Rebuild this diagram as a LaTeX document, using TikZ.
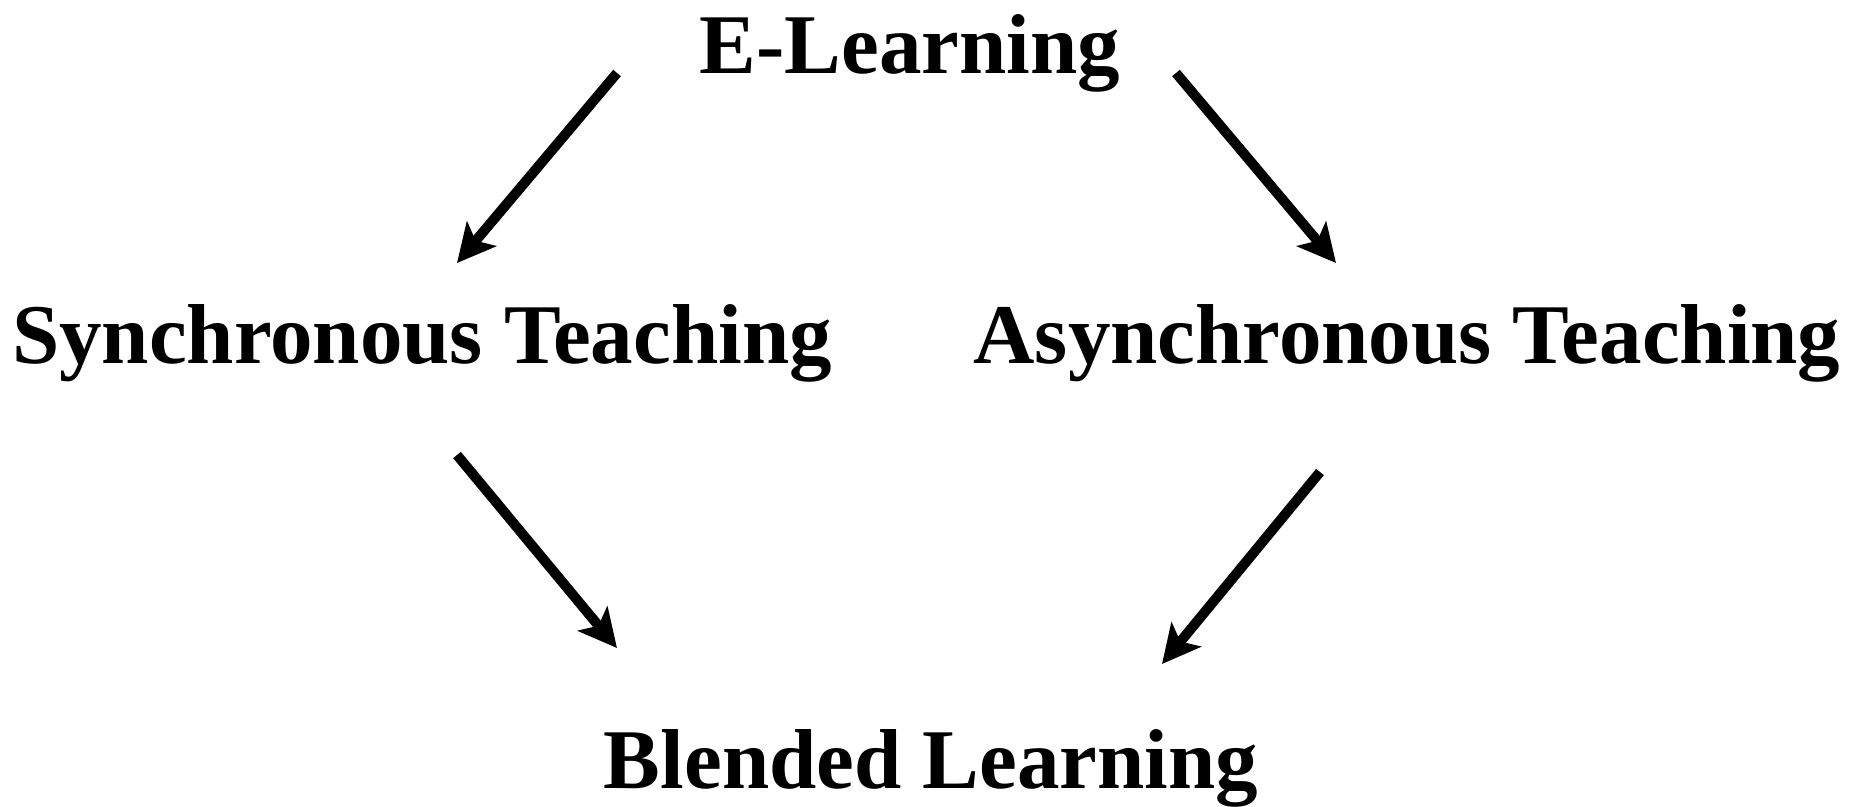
\documentclass[tikz,border=0pt]{standalone}
\usepackage{fontspec}
\setmainfont{Liberation Serif}
\usetikzlibrary{arrows.meta}
\begin{document}
\begin{tikzpicture}[x=1pt,y=-1pt,
  lbl/.style={inner sep=0pt, anchor=base, font=\fontsize{85}{100}\selectfont\bfseries},
  arr/.style={line width=10pt, -{Stealth[length=38pt,width=38pt,inset=9pt]}}]
\useasboundingbox (0,0) rectangle (1852,806);
\node[lbl] (E) at (910,73) {E-Learning};
\node[lbl] (S) at (422,363) {Synchronous Teaching};
\node[lbl] (A) at (1407,363) {Asynchronous Teaching};
\node[lbl] (B) at (931,788) {Blended Learning};
\coordinate (e1) at (617,73);
\coordinate (s1) at (457,263);
\coordinate (e2) at (1176,73);
\coordinate (a1) at (1336,263);
\coordinate (s2) at (457,455);
\coordinate (b1) at (617,648);
\coordinate (a2) at (1320,472);
\coordinate (b2) at (1162,664);
\draw[arr] (e1) -- (s1);
\draw[arr] (e2) -- (a1);
\draw[arr] (s2) -- (b1);
\draw[arr] (a2) -- (b2);
\end{tikzpicture}
\end{document}
